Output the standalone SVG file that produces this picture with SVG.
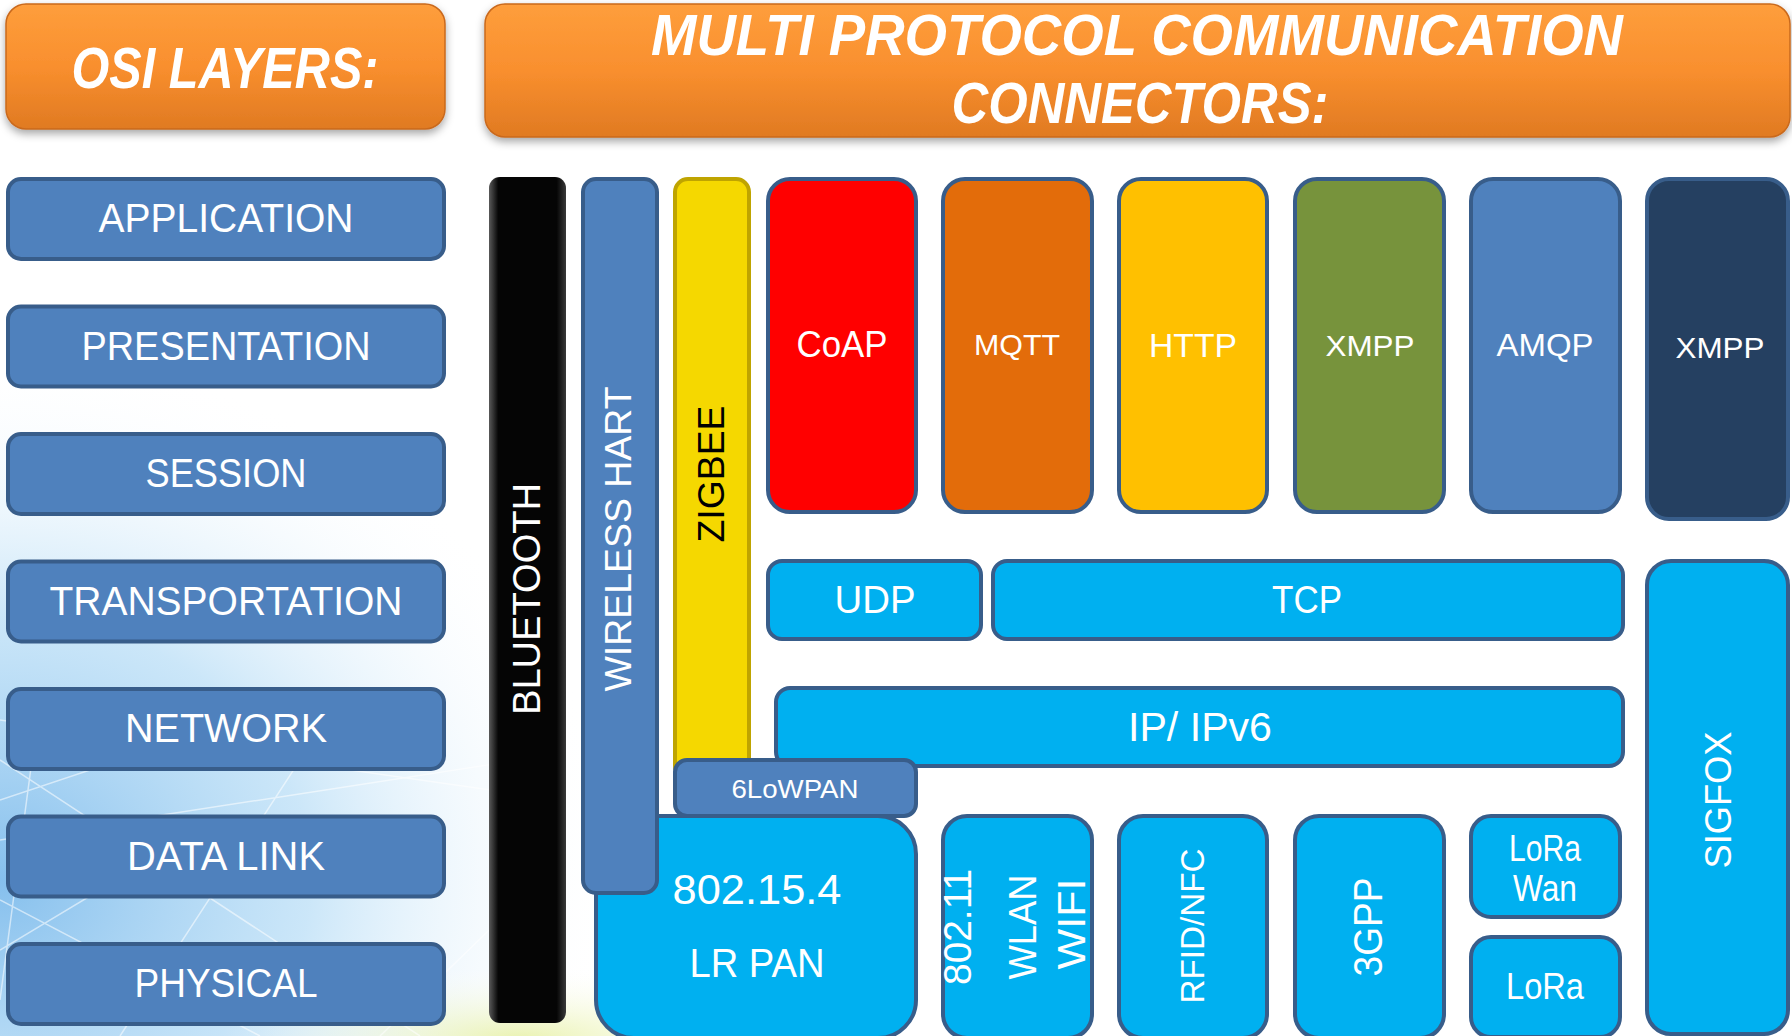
<svg xmlns="http://www.w3.org/2000/svg" width="1792" height="1036" viewBox="0 0 1792 1036">
<defs>
<linearGradient id="orange" x1="0" y1="0" x2="0" y2="1">
<stop offset="0" stop-color="#fe9e3c"/>
<stop offset="0.5" stop-color="#f98f2e"/>
<stop offset="1" stop-color="#e07a22"/>
</linearGradient>
<linearGradient id="black" x1="0" y1="0" x2="1" y2="0">
<stop offset="0" stop-color="#5a5a5a"/>
<stop offset="0.12" stop-color="#050505"/>
<stop offset="0.88" stop-color="#050505"/>
<stop offset="1" stop-color="#3a3a3a"/>
</linearGradient>
<radialGradient id="bgBlue" cx="0" cy="880" r="620" gradientUnits="userSpaceOnUse" gradientTransform="translate(0,880) scale(1,0.85) translate(0,-880)">
<stop offset="0" stop-color="#7fbcec" stop-opacity="0.95"/>
<stop offset="0.5" stop-color="#b5dcf6" stop-opacity="0.7"/>
<stop offset="1" stop-color="#ffffff" stop-opacity="0"/>
</radialGradient>
<radialGradient id="bgYellow" cx="520" cy="1040" r="300" gradientUnits="userSpaceOnUse" gradientTransform="translate(520,1040) scale(1,0.25) translate(-520,-1040)">
<stop offset="0" stop-color="#e4ef9a" stop-opacity="0.8"/>
<stop offset="1" stop-color="#ffffff" stop-opacity="0"/>
</radialGradient>
<filter id="shadow" x="-5%" y="-10%" width="110%" height="130%">
<feDropShadow dx="0" dy="4" stdDeviation="4" flood-color="#000" flood-opacity="0.35"/>
</filter>
<style>
.hdr{fill:url(#orange);stroke:#c9691c;stroke-width:1.5;filter:url(#shadow)}
.hdrText{font-family:"Liberation Sans",Arial,sans-serif;font-weight:bold;font-style:italic;fill:#fff;text-anchor:middle;font-size:58px}
.layer{fill:#4f81bd;stroke:#385d8a;stroke-width:4}
.t{font-family:"Liberation Sans",Arial,sans-serif;fill:#fff;text-anchor:middle}
.lt{font-size:40px}
.cyan{fill:#00b0f0;stroke:#385d8a;stroke-width:4}
.blue{fill:#4f81bd;stroke:#385d8a;stroke-width:4}
.bgline{stroke:#ffffff;stroke-opacity:0.55;stroke-width:1.5;fill:none}
</style>
</defs>

<rect x="0" y="0" width="1792" height="1036" fill="#ffffff"/>
<g id="background">
<rect x="0" y="380" width="760" height="656" fill="url(#bgBlue)"/>
<rect x="150" y="960" width="750" height="76" fill="url(#bgYellow)"/>
<path class="bgline" d="M0 760 L420 1036 M0 800 L300 700 M0 840 L520 760 M40 700 L0 1000 M0 900 L260 1036 M120 1036 L300 760 M0 950 L200 830 M380 1036 L520 900 M0 720 L560 800"/>
</g>

<g id="header-osi">
<rect class="hdr" x="6" y="4" width="439" height="125" rx="20"/>
<text class="hdrText" x="225" y="88" font-size="60" textLength="307" lengthAdjust="spacingAndGlyphs">OSI LAYERS:</text>
</g>
<g id="header-multi">
<rect class="hdr" x="485" y="4" width="1305" height="133" rx="20"/>
<text class="hdrText" x="1137" y="55" textLength="972" lengthAdjust="spacingAndGlyphs">MULTI PROTOCOL COMMUNICATION</text>
<text class="hdrText" x="1140" y="123" textLength="377" lengthAdjust="spacingAndGlyphs">CONNECTORS:</text>
</g>

<g id="osi-layers">
<g id="layer-application"><rect class="layer" x="8" y="179" width="436" height="80" rx="13"/><text class="t lt" x="226" y="232" textLength="255" lengthAdjust="spacingAndGlyphs">APPLICATION</text></g>
<g id="layer-presentation"><rect class="layer" x="8" y="306.5" width="436" height="80" rx="13"/><text class="t lt" x="226" y="359.5" textLength="289" lengthAdjust="spacingAndGlyphs">PRESENTATION</text></g>
<g id="layer-session"><rect class="layer" x="8" y="434" width="436" height="80" rx="13"/><text class="t lt" x="226" y="487" textLength="161" lengthAdjust="spacingAndGlyphs">SESSION</text></g>
<g id="layer-transportation"><rect class="layer" x="8" y="561.5" width="436" height="80" rx="13"/><text class="t lt" x="226" y="614.5" textLength="353" lengthAdjust="spacingAndGlyphs">TRANSPORTATION</text></g>
<g id="layer-network"><rect class="layer" x="8" y="689" width="436" height="80" rx="13"/><text class="t lt" x="226" y="742" textLength="202" lengthAdjust="spacingAndGlyphs">NETWORK</text></g>
<g id="layer-datalink"><rect class="layer" x="8" y="816.5" width="436" height="80" rx="13"/><text class="t lt" x="226" y="869.5" textLength="198" lengthAdjust="spacingAndGlyphs">DATA LINK</text></g>
<g id="layer-physical"><rect class="layer" x="8" y="944" width="436" height="80" rx="13"/><text class="t lt" x="226" y="997" textLength="183" lengthAdjust="spacingAndGlyphs">PHYSICAL</text></g>
</g>

<g id="protocols">
<g id="bluetooth">
<rect x="489" y="177" width="77" height="846" rx="11" fill="url(#black)"/>
<text class="t" transform="translate(527,599) rotate(-90)" x="0" y="13" font-size="38" textLength="232" lengthAdjust="spacingAndGlyphs">BLUETOOTH</text>
</g>

<g id="lrpan">
<rect class="cyan" x="596" y="816" width="320" height="222" rx="38"/>
<text class="t" x="757" y="904" font-size="42" textLength="169" lengthAdjust="spacingAndGlyphs">802.15.4</text>
<text class="t" x="757" y="977" font-size="40" textLength="135" lengthAdjust="spacingAndGlyphs">LR PAN</text>
</g>

<g id="wireless-hart">
<rect class="blue" x="583" y="179" width="74" height="714" rx="13"/>
<text class="t" transform="translate(618,539) rotate(-90)" x="0" y="13" font-size="37" textLength="305" lengthAdjust="spacingAndGlyphs">WIRELESS HART</text>
</g>

<g id="zigbee">
<rect x="675" y="179" width="74" height="600" rx="13" fill="#f5d800" stroke="#bfa400" stroke-width="4"/>
<text class="t" fill="#000" style="fill:#000" transform="translate(711,474) rotate(-90)" x="0" y="13" font-size="37" textLength="137" lengthAdjust="spacingAndGlyphs">ZIGBEE</text>
</g>

<g id="ip">
<rect class="cyan" x="776" y="688" width="847" height="78" rx="14"/>
<text class="t" x="1200" y="741" font-size="40" textLength="144" lengthAdjust="spacingAndGlyphs">IP/ IPv6</text>
</g>

<g id="sixlowpan">
<rect class="blue" x="675" y="760" width="241" height="56" rx="12"/>
<text class="t" x="795" y="798" font-size="26" textLength="127" lengthAdjust="spacingAndGlyphs">6LoWPAN</text>
</g>

<g id="coap">
<rect x="768" y="179" width="148" height="333" rx="22" fill="#ff0000" stroke="#385d8a" stroke-width="4"/>
<text class="t" x="842" y="357" font-size="36" textLength="91" lengthAdjust="spacingAndGlyphs">CoAP</text>
</g>
<g id="mqtt">
<rect x="943" y="179" width="149" height="333" rx="22" fill="#e36c0a" stroke="#385d8a" stroke-width="4"/>
<text class="t" x="1017" y="355" font-size="30" textLength="86" lengthAdjust="spacingAndGlyphs">MQTT</text>
</g>
<g id="http">
<rect x="1119" y="179" width="148" height="333" rx="22" fill="#ffc000" stroke="#385d8a" stroke-width="4"/>
<text class="t" x="1193" y="357" font-size="34" textLength="88" lengthAdjust="spacingAndGlyphs">HTTP</text>
</g>
<g id="xmpp-green">
<rect x="1295" y="179" width="149" height="333" rx="22" fill="#77933c" stroke="#385d8a" stroke-width="4"/>
<text class="t" x="1370" y="356" font-size="30" textLength="89" lengthAdjust="spacingAndGlyphs">XMPP</text>
</g>
<g id="amqp">
<rect x="1471" y="179" width="149" height="333" rx="22" fill="#4f81bd" stroke="#385d8a" stroke-width="4"/>
<text class="t" x="1545" y="356" font-size="32" textLength="97" lengthAdjust="spacingAndGlyphs">AMQP</text>
</g>
<g id="xmpp-navy">
<rect x="1647" y="179" width="141" height="340" rx="22" fill="#254061" stroke="#385d8a" stroke-width="4"/>
<text class="t" x="1720" y="358" font-size="30" textLength="89" lengthAdjust="spacingAndGlyphs">XMPP</text>
</g>

<g id="udp">
<rect class="cyan" x="768" y="561" width="213" height="78" rx="14"/>
<text class="t" x="875" y="613" font-size="38" textLength="81" lengthAdjust="spacingAndGlyphs">UDP</text>
</g>
<g id="tcp">
<rect class="cyan" x="993" y="561" width="630" height="78" rx="14"/>
<text class="t" x="1307" y="613" font-size="38" textLength="70" lengthAdjust="spacingAndGlyphs">TCP</text>
</g>
<g id="sigfox">
<rect class="cyan" x="1647" y="561" width="141" height="473" rx="24"/>
<text class="t" transform="translate(1718,800) rotate(-90)" x="0" y="13" font-size="36" textLength="137" lengthAdjust="spacingAndGlyphs">SIGFOX</text>
</g>

<g id="wlan">
<rect class="cyan" x="943" y="816" width="149" height="222" rx="24"/>
<text class="t" transform="translate(958,927) rotate(-90)" x="0" y="13" font-size="38" textLength="116" lengthAdjust="spacingAndGlyphs">802.11</text>
<text class="t" transform="translate(1023,927) rotate(-90)" x="0" y="13" font-size="38" textLength="105" lengthAdjust="spacingAndGlyphs">WLAN</text>
<text class="t" transform="translate(1072,924) rotate(-90)" x="0" y="13" font-size="38" textLength="91" lengthAdjust="spacingAndGlyphs">WIFI</text>
</g>
<g id="rfid">
<rect class="cyan" x="1119" y="816" width="148" height="222" rx="24"/>
<text class="t" transform="translate(1192,926) rotate(-90)" x="0" y="12" font-size="34" textLength="155" lengthAdjust="spacingAndGlyphs">RFID/NFC</text>
</g>
<g id="gpp">
<rect class="cyan" x="1295" y="816" width="149" height="222" rx="24"/>
<text class="t" transform="translate(1368,927) rotate(-90)" x="0" y="14" font-size="40" textLength="99" lengthAdjust="spacingAndGlyphs">3GPP</text>
</g>
<g id="lorawan">
<rect class="cyan" x="1471" y="816" width="149" height="101" rx="20"/>
<text class="t" x="1545" y="861" font-size="36" textLength="72" lengthAdjust="spacingAndGlyphs">LoRa</text>
<text class="t" x="1545" y="901" font-size="36" textLength="64" lengthAdjust="spacingAndGlyphs">Wan</text>
</g>
<g id="lora">
<rect class="cyan" x="1471" y="937" width="149" height="100" rx="20"/>
<text class="t" x="1545" y="999" font-size="36" textLength="78" lengthAdjust="spacingAndGlyphs">LoRa</text>
</g>
</g>
<g id="connectors"/>
</svg>
